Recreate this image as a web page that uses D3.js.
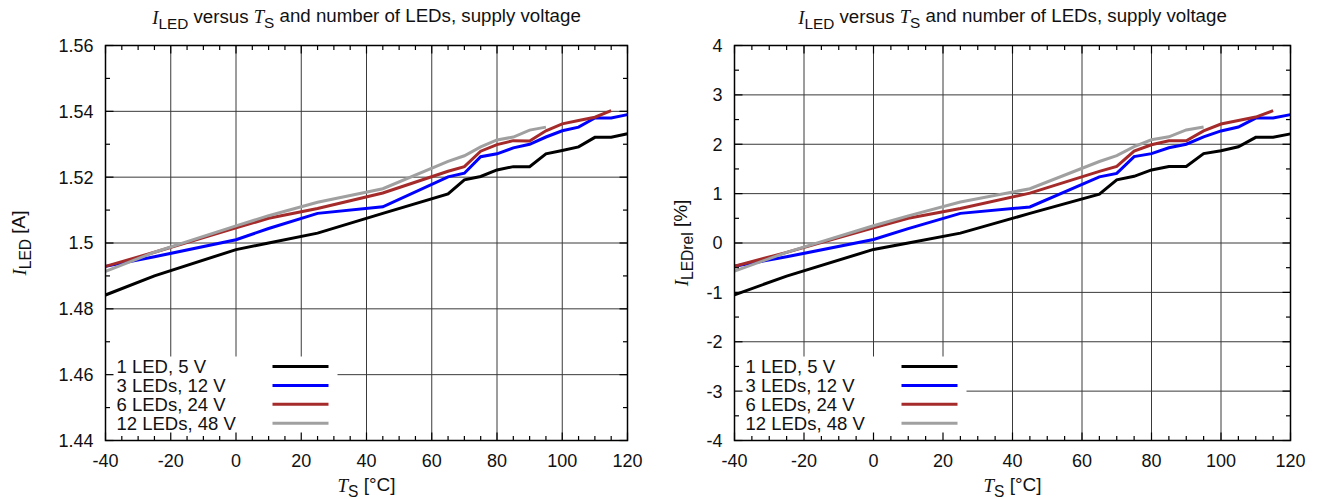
<!DOCTYPE html>
<html><head><meta charset="utf-8">
<script src="https://cdn.jsdelivr.net/npm/d3@7"></script>
<style>
html,body{margin:0;padding:0;background:#fff;}
svg{display:block;}
text{font-family:"Liberation Sans",Arial,Helvetica,sans-serif;fill:#111;}
.it{font-family:"Liberation Serif","Times New Roman",serif;font-style:italic;}
</style></head>
<body>
<svg id="chart" width="1321" height="499"></svg>
<script>
// ---- data ----
const temps = [-40, -25, 0, 10, 25, 45, 65, 70, 75, 80, 85, 90, 95, 100, 105, 110, 115, 120];
const seriesNames = ["1 LED, 5 V", "3 LEDs, 12 V", "6 LEDs, 24 V", "12 LEDs, 48 V"];
const seriesColors = ["#000000", "#0000ff", "#a52a2a", "#a0a0a0"];

// absolute current [A]
const iLed1 = [1.4842, 1.4900, 1.4980, 1.5000, 1.5030, 1.5090, 1.5149, 1.5192, 1.5202, 1.5222, 1.5232, 1.5232, 1.5271, 1.5281, 1.5292, 1.5321, 1.5321, 1.5332];
const iLed3 = [1.4929, 1.4958, 1.5010, 1.5044, 1.5090, 1.5110, 1.5201, 1.5212, 1.5262, 1.5271, 1.5289, 1.5300, 1.5322, 1.5341, 1.5352, 1.5380, 1.5380, 1.5390];
const iLed6 = [1.4929, 1.4972, 1.5046, 1.5075, 1.5105, 1.5152, 1.5218, 1.5232, 1.5279, 1.5299, 1.5311, 1.5310, 1.5341, 1.5362, 1.5372, 1.5382, 1.5402];
const iLed12 = [1.4914, 1.4972, 1.5052, 1.5083, 1.5124, 1.5165, 1.5248, 1.5265, 1.5292, 1.5313, 1.5322, 1.5343, 1.5352];

// relative current [%]
const rel1 = [-1.05, -0.67, -0.13, 0.00, 0.20, 0.60, 0.99, 1.28, 1.35, 1.48, 1.55, 1.55, 1.81, 1.87, 1.95, 2.14, 2.14, 2.21];
const rel3 = [-0.47, -0.28, 0.07, 0.29, 0.60, 0.73, 1.34, 1.41, 1.75, 1.81, 1.93, 2.00, 2.15, 2.27, 2.35, 2.53, 2.53, 2.60];
const rel6 = [-0.47, -0.19, 0.31, 0.50, 0.70, 1.01, 1.45, 1.55, 1.86, 1.99, 2.07, 2.07, 2.27, 2.41, 2.48, 2.55, 2.68];
const rel12 = [-0.57, -0.19, 0.35, 0.55, 0.83, 1.10, 1.65, 1.77, 1.95, 2.09, 2.15, 2.29, 2.35];

const xTicks = [-40, -20, 0, 20, 40, 60, 80, 100, 120];
const yTicksAbs = [1.44, 1.46, 1.48, 1.5, 1.52, 1.54, 1.56];
const yTicksRel = [-4, -3, -2, -1, 0, 1, 2, 3, 4];

const svg = d3.select("#chart");

function panel(cfg) {
  const x = d3.scaleLinear().domain([-40, 120]).range([cfg.x0, cfg.x1]);
  const y = d3.scaleLinear().domain(cfg.yDomain).range([cfg.y1, cfg.y0]);
  const g = svg.append("g");

  // grid
  const grid = g.append("g").attr("stroke", "#3a3a3a").attr("stroke-width", 1);
  xTicks.slice(1, -1).forEach(v => grid.append("line")
    .attr("x1", x(v)).attr("x2", x(v)).attr("y1", cfg.y0).attr("y2", cfg.y1));
  cfg.yTicks.slice(1, -1).forEach(v => grid.append("line")
    .attr("x1", cfg.x0).attr("x2", cfg.x1).attr("y1", y(v)).attr("y2", y(v)));

  // legend background
  g.append("rect").attr("x", cfg.x0).attr("y", cfg.y1 - 84)
    .attr("width", 232).attr("height", 84).attr("fill", "#fff");

  // data lines
  const line = d3.line().x(d => x(d[0])).y(d => y(d[1]));
  cfg.series.forEach((s, i) => {
    const pts = s.map((v, k) => [temps[k], v]);
    g.append("path").attr("d", line(pts)).attr("fill", "none")
      .attr("stroke", seriesColors[i]).attr("stroke-width", 3)
      .attr("stroke-linejoin", "miter");
  });

  // legend
  seriesNames.forEach((n, i) => {
    const yy = cfg.y1 - 74 + i * 18.9;
    g.append("text").attr("x", cfg.x0 + 11).attr("y", yy).attr("dy", "0.36em")
      .attr("font-size", 18.5).text(n);
    g.append("line").attr("x1", cfg.x0 + 167).attr("x2", cfg.x0 + 223)
      .attr("y1", yy).attr("y2", yy).attr("stroke", seriesColors[i]).attr("stroke-width", 3);
  });

  // frame
  g.append("rect").attr("x", cfg.x0).attr("y", cfg.y0)
    .attr("width", cfg.x1 - cfg.x0).attr("height", cfg.y1 - cfg.y0)
    .attr("fill", "none").attr("stroke", "#000").attr("stroke-width", 1.5);

  // ticks (inward, mirrored)
  const tk = g.append("g").attr("stroke", "#000").attr("stroke-width", 1.2);
  d3.range(-40, 121, 5).forEach(v => {
    const L = (v % 20 === 0) ? 8 : 4.5;
    tk.append("line").attr("x1", x(v)).attr("x2", x(v)).attr("y1", cfg.y1).attr("y2", cfg.y1 - L);
    tk.append("line").attr("x1", x(v)).attr("x2", x(v)).attr("y1", cfg.y0).attr("y2", cfg.y0 + L);
  });
  cfg.yMinor.forEach(v => {
    const isMajor = cfg.yTicks.some(t => Math.abs(t - v) < 1e-9);
    const L = isMajor ? 8 : 4.5;
    tk.append("line").attr("x1", cfg.x0).attr("x2", cfg.x0 + L).attr("y1", y(v)).attr("y2", y(v));
    tk.append("line").attr("x1", cfg.x1).attr("x2", cfg.x1 - L).attr("y1", y(v)).attr("y2", y(v));
  });

  // tick labels
  xTicks.forEach(v => g.append("text").attr("x", x(v)).attr("y", cfg.y1 + 26)
    .attr("text-anchor", "middle").attr("font-size", 18).text(v));
  cfg.yTicks.forEach(v => g.append("text").attr("x", cfg.x0 - 12).attr("y", y(v))
    .attr("dy", "0.36em").attr("text-anchor", "end").attr("font-size", 18).text(cfg.fmt(v)));

  // title
  const cx = (cfg.x0 + cfg.x1) / 2;
  const t = g.append("text").attr("x", cx).attr("y", 24).attr("text-anchor", "middle").attr("font-size", 18.7);
  t.append("tspan").attr("class", "it").text("I");
  t.append("tspan").attr("dy", "0.3em").attr("font-size", "0.82em").text("LED");
  t.append("tspan").attr("dy", "-0.3em").text(" versus ");
  t.append("tspan").attr("class", "it").text("T");
  t.append("tspan").attr("dy", "0.3em").attr("font-size", "0.82em").text("S");
  t.append("tspan").attr("dy", "-0.3em").text(" and number of LEDs, supply voltage");

  // x label
  const xl = g.append("text").attr("x", cx).attr("y", 492).attr("text-anchor", "middle").attr("font-size", 19);
  xl.append("tspan").attr("class", "it").text("T");
  xl.append("tspan").attr("dy", "0.3em").attr("font-size", "0.82em").text("S");
  xl.append("tspan").attr("dy", "-0.3em").text(" [°C]");

  // y label
  const cy = (cfg.y0 + cfg.y1) / 2;
  const yl = g.append("text").attr("transform", `translate(${cfg.yLabelX},${cy}) rotate(-90)`)
    .attr("text-anchor", "middle").attr("font-size", 19);
  yl.append("tspan").attr("class", "it").text("I");
  yl.append("tspan").attr("dy", "0.3em").attr("font-size", "0.82em").text(cfg.ySub);
  yl.append("tspan").attr("dy", "-0.3em").text(cfg.yUnit);
}

panel({
  x0: 105.5, x1: 627.5, y0: 45.5, y1: 440.5,
  yDomain: [1.44, 1.56], yTicks: yTicksAbs,
  yMinor: d3.range(0, 13).map(k => 1.44 + k * 0.01),
  fmt: v => String(+v.toFixed(2)),
  series: [iLed1, iLed3, iLed6, iLed12],
  yLabelX: 26, ySub: "LED", yUnit: " [A]"
});
panel({
  x0: 734.5, x1: 1290.5, y0: 45.5, y1: 440.5,
  yDomain: [-4, 4], yTicks: yTicksRel,
  yMinor: d3.range(0, 17).map(k => -4 + k * 0.5),
  fmt: v => String(v),
  series: [rel1, rel3, rel6, rel12],
  yLabelX: 688, ySub: "LEDrel", yUnit: " [%]"
});
</script>
</body></html>
